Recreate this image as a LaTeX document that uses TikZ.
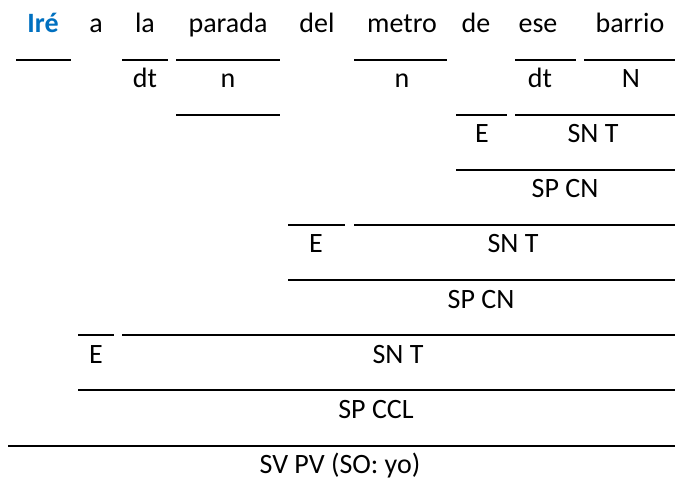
\documentclass[tikz,border=0pt]{standalone}
\usepackage{fontspec}
\setmainfont{Carlito}
\definecolor{verbblue}{RGB}{0,112,192}

\begin{document}
\begin{tikzpicture}[x=1bp,y=-1bp,
    rule/.style={line width=1.7bp},
    lbl/.style={anchor=base,inner sep=0pt,font=\fontsize{28bp}{32bp}\selectfont}]
        \path[use as bounding box] (0,0) rectangle (675,480);

        % Words of the sentence
        \node[lbl,text=verbblue,font=\fontsize{28bp}{32bp}\selectfont\bfseries] (ire) at (43,33) {Iré};
        \node[lbl] (a) at (96,33) {a};
        \node[lbl] (la) at (145,33) {la};
        \node[lbl] (parada) at (228,33) {parada};
        \node[lbl] (del) at (317,33) {del};
        \node[lbl] (metro) at (402,33) {metro};
        \node[lbl] (de) at (476,33) {de};
        \node[lbl] (ese) at (538,33) {ese};
        \node[lbl] (barrio) at (630,33) {barrio};

        % Rules under the words
        \draw[rule] (16,60) -- (71,60);
        \draw[rule] (122,60) -- (168,60);
        \draw[rule] (176,60) -- (280,60);
        \draw[rule] (354,60) -- (447,60);
        \draw[rule] (515,60) -- (576,60);
        \draw[rule] (584,60) -- (675,60);

        % Word functions
        \node[lbl] (dtla) at (145,88) {dt};
        \node[lbl] (nparada) at (228,88) {n};
        \node[lbl] (nmetro) at (402,88) {n};
        \node[lbl] (dtese) at (540,88) {dt};
        \node[lbl] (nbarrio) at (631,88) {N};

        % SN T of "ese barrio"
        \draw[rule] (176,115) -- (280,115);
        \draw[rule] (456,115) -- (507,115);
        \draw[rule] (515,115) -- (675,115);
        \node[lbl] (ede) at (482,143) {E};
        \node[lbl] (sntbarrio) at (593,143) {SN T};

        % SP CN "de ese barrio"
        \draw[rule] (456,170) -- (675,170);
        \node[lbl] (spcnbarrio) at (565,198) {SP CN};

        % SN T of "metro de ese barrio"
        \draw[rule] (288,225) -- (345,225);
        \draw[rule] (354,225) -- (675,225);
        \node[lbl] (edel) at (316,253) {E};
        \node[lbl] (sntmetro) at (513,253) {SN T};

        % SP CN "del metro ..."
        \draw[rule] (288,280) -- (675,280);
        \node[lbl] (spcnmetro) at (481,308) {SP CN};

        % SN T of "la parada ..."
        \draw[rule] (78,335) -- (114,335);
        \draw[rule] (122,335) -- (675,335);
        \node[lbl] (ea) at (96,363) {E};
        \node[lbl] (sntparada) at (398,363) {SN T};

        % SP CCL
        \draw[rule] (78,390) -- (675,390);
        \node[lbl] (spccl) at (376,418) {SP CCL};

        % Whole predicate
        \draw[rule] (8,446) -- (675,446);
        \node[lbl] (svpv) at (340,473) {SV PV (SO: yo)};
    \end{tikzpicture}
\end{document}
